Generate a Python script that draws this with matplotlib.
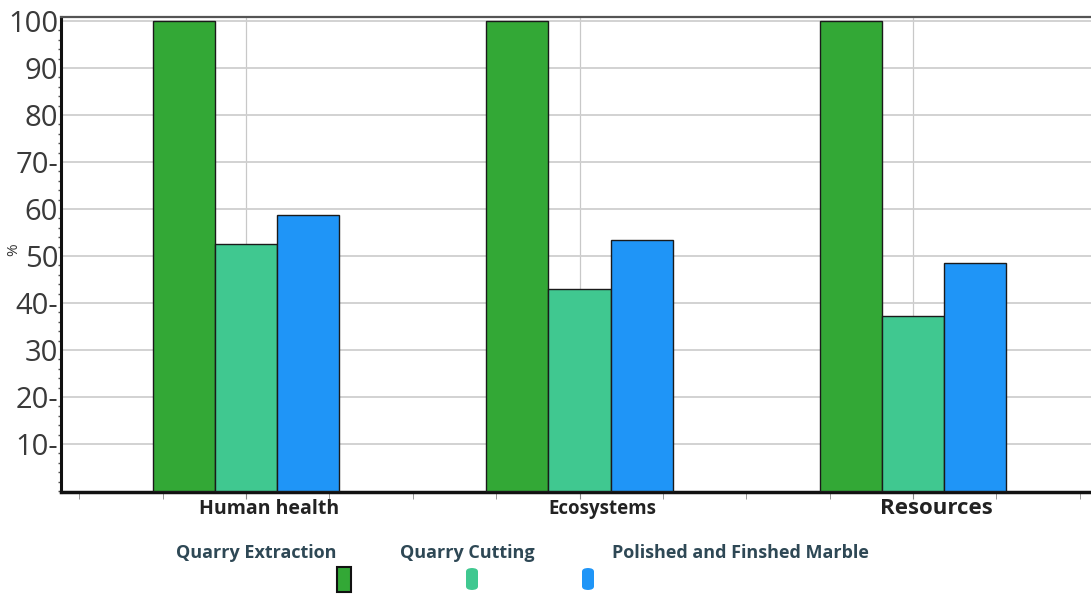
import matplotlib.pyplot as plt
from matplotlib.patches import Rectangle, FancyBboxPatch
from matplotlib.ticker import MultipleLocator
import matplotlib.transforms as mtransforms

# data
categories = ['Human health', 'Ecosystems', 'Resources']
extraction = [100, 100, 100]
cutting = [52.6, 43.0, 37.2]
polished = [58.7, 53.4, 48.5]
series_names = ['Quarry Extraction', 'Quarry Cutting', 'Polished and Finshed Marble']
ytick_values = [10, 20, 30, 40, 50, 60, 70, 80, 90, 100]
ytick_labels = ['10-', '20-', '30', '40-', '50', '60', '70-', '80', '90', '100']

colors = ['#33a836', '#40c890', '#1f95f7']
label_sizes = [14, 13.5, 16]

plt.rcParams['font.family'] = ['Open Sans', 'DejaVu Sans']

fig = plt.figure(figsize=(10.91, 5.95), dpi=100)
ax = fig.add_axes([61 / 1091, 103 / 595, 1 - 61 / 1091, (492 - 17) / 595])

width = 0.186
x = list(range(len(categories)))
for k, vals in enumerate([extraction, cutting, polished]):
    ax.bar([i + (k - 1) * width for i in x], vals, width=width,
           color=colors[k], edgecolor='#1a1a1a', linewidth=1.0, zorder=3)

ax.set_xlim(-0.555, 2.534)
ax.set_ylim(-0.2, 100.85)

ax.set_yticks(ytick_values)
ax.set_yticklabels(ytick_labels, fontsize=21, color='#3a3a3a')
ax.yaxis.set_minor_locator(MultipleLocator(2))
ax.tick_params(axis='y', which='major', length=0, pad=2)
ax.tick_params(axis='y', which='minor', length=2, width=1, color='#555555')
ax.grid(axis='y', color='#cfcfcf', linewidth=1.3, zorder=0)

ax.set_xticks(x)
ax.set_xticklabels([''] * len(x))
ax.xaxis.set_minor_locator(MultipleLocator(0.25))
ax.tick_params(axis='x', which='major', length=5, color='#888888')
ax.tick_params(axis='x', which='minor', length=5, color='#888888')
ax.grid(axis='x', which='major', color='#c8c8c8', linewidth=0.9, zorder=0)

trans = mtransforms.blended_transform_factory(ax.transData, ax.transAxes)
for i, cat in enumerate(categories):
    ax.text(i + 0.07, -0.035, cat, transform=trans, ha='center', va='center',
            fontsize=label_sizes[i], fontweight='bold', color='#222222')

fig.text(14 / 1091, 1 - 250 / 595, '%', rotation=90, ha='center', va='center',
         fontsize=11, color='#333333')

ax.spines['right'].set_visible(False)
ax.spines['left'].set_linewidth(2.2)
ax.spines['left'].set_color('#111111')
ax.spines['bottom'].set_linewidth(2.5)
ax.spines['bottom'].set_color('#111111')
ax.spines['top'].set_linewidth(1.6)
ax.spines['top'].set_color('#555555')

# legend drawn by hand: names on top, swatches below
text_x = [256, 467, 740]
swatch_x = [344, 472, 588]
for k, name in enumerate(series_names):
    fig.text(text_x[k] / 1091, 1 - 553 / 595, name, ha='center', va='center',
             fontsize=13, fontweight='bold', color='#2e4855')
fig.patches.append(Rectangle(((swatch_x[0] - 7) / 1091, 1 - 592 / 595), 14 / 1091, 25 / 595,
                             transform=fig.transFigure, facecolor=colors[0],
                             edgecolor='#111111', linewidth=1.5))
for k in (1, 2):
    fig.patches.append(FancyBboxPatch(((swatch_x[k] - 6) / 1091, 1 - 590 / 595), 12 / 1091, 22 / 595,
                                      boxstyle='round,pad=0,rounding_size=0.006',
                                      transform=fig.transFigure, facecolor=colors[k],
                                      edgecolor='none'))

fig.savefig('out.png', dpi=100, facecolor='white')
